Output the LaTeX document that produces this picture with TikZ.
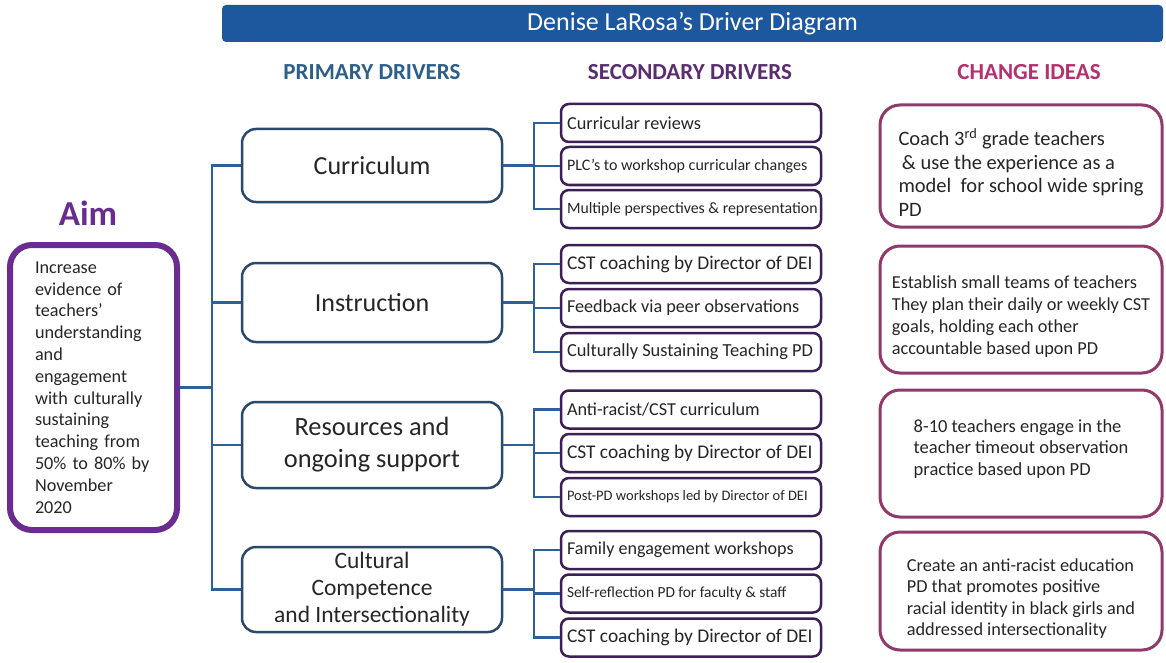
\documentclass[tikz,border=0pt]{standalone}
\usepackage{fontspec}
\setmainfont{Carlito}
\definecolor{barblue}{HTML}{1D579E}
\definecolor{connblue}{HTML}{2F609A}
\definecolor{primborder}{HTML}{2B4A6B}
\definecolor{secborder}{HTML}{3B1F55}
\definecolor{chgborder}{HTML}{8E3A6A}
\definecolor{aimpurple}{HTML}{6A2D8F}
\definecolor{hdrprim}{HTML}{2D5F8B}
\definecolor{hdrsec}{HTML}{5A2D6E}
\definecolor{hdrchg}{HTML}{B5306E}
\definecolor{txt}{HTML}{262626}
\newcommand{\myfs}[2]{\fontsize{#1}{#2}\selectfont}
\newcommand{\sectext}[2]{\myfs{#1}{#1}\makebox[248pt][l]{#2}}
\tikzset{
  conn/.style={draw=connblue, line width=2.5pt},
  primbox/.style={draw=primborder, line width=2.5pt, rounded corners=14pt, fill=white,
    minimum width=260pt, align=center, text=txt, inner sep=2pt},
  secbox/.style={draw=secborder, line width=2.5pt, rounded corners=8pt, fill=white,
    minimum width=260pt, minimum height=38pt, inner xsep=6pt, inner ysep=0pt, text=txt},
  chgbox/.style={draw=chgborder, line width=3pt, rounded corners=20pt, fill=white,
    minimum width=282pt, align=left, text=txt},
  hdr/.style={font=\bfseries\myfs{23}{26}},
}
\begin{document}
\begin{tikzpicture}[x=1pt, y=-1pt]
\useasboundingbox (0,0) rectangle (1166,663);
\fill[white] (0,0) rectangle (1166,663);

% title bar
\node[fill=barblue, rounded corners=4pt, minimum width=941pt, minimum height=37pt,
  text=white, font=\myfs{26}{28}] (title) at (692.5,23.5) {Denise LaRosa’s Driver Diagram};

% headers
\node[hdr, text=hdrprim] (hp) at (372,72) {PRIMARY DRIVERS};
\node[hdr, text=hdrsec] (hs) at (690,72) {SECONDARY DRIVERS};
\node[hdr, text=hdrchg] (hc) at (1029,72) {CHANGE IDEAS};

% aim
\node[text=aimpurple, font=\bfseries\myfs{35}{38}] (aimlbl) at (88,213) {Aim};
\node[draw=aimpurple, line width=6pt, rounded corners=22pt, minimum width=167pt, minimum height=285pt,
  text width=117pt, inner xsep=25pt, align=left, text=txt, font=\myfs{18.2}{21.8}] (aim) at (93.5,387.5)
  {Increase\\\mbox{evidence of}\\teachers’\\understanding\\and\\engagement\\\mbox{with culturally}\\sustaining\\\mbox{teaching from}\\\mbox{50\% to 80\% by}\\November\\2020};

% primary drivers
\node[primbox, minimum height=73pt, font=\myfs{26}{30}] (cur) at (372,165.5) {Curriculum};
\node[primbox, minimum height=79pt, font=\myfs{26}{30}] (ins) at (372,302.5) {Instruction};
\node[primbox, minimum height=86pt, font=\myfs{26.4}{32}] (res) at (372,445) {Resources and\\ongoing support};
\node[primbox, minimum height=85pt, font=\myfs{23.5}{27}] (cul) at (372,589.5) {Cultural\\Competence\\and Intersectionality};

% secondary drivers
\node[secbox] (s11) at (691,123) {\sectext{18.3}{Curricular reviews}};
\node[secbox] (s12) at (691,166) {\sectext{16}{PLC’s to workshop curricular changes}};
\node[secbox] (s13) at (691,209) {\sectext{15.8}{Multiple perspectives \& representation}};
\node[secbox] (s21) at (691,264) {\sectext{19.4}{CST coaching by Director of DEI}};
\node[secbox] (s22) at (691,308) {\sectext{18.2}{Feedback via peer observations}};
\node[secbox] (s23) at (691,352) {\sectext{18.4}{Culturally Sustaining Teaching PD}};
\node[secbox] (s31) at (691,409.5) {\sectext{18.2}{Anti-racist/CST curriculum}};
\node[secbox] (s32) at (691,453) {\sectext{19.4}{CST coaching by Director of DEI}};
\node[secbox] (s33) at (691,497) {\sectext{14.5}{Post-PD workshops led by Director of DEI}};
\node[secbox] (s41) at (691,550) {\sectext{18.1}{Family engagement workshops}};
\node[secbox] (s42) at (691,593.5) {\sectext{15.4}{Self-reflection PD for faculty \& staff}};
\node[secbox] (s43) at (691,637.5) {\sectext{19.4}{CST coaching by Director of DEI}};

% change ideas
\node[chgbox, minimum height=122pt, font=\myfs{20.5}{23.5}] (c1) at (1021,166)
  {\rule{0pt}{30pt}Coach 3\textsuperscript{rd} grade teachers\\\,\& use the experience as a\\model\ \ for school wide spring\\PD};
\node[chgbox, minimum height=127pt, font=\myfs{18.3}{22}] (c2) at (1021,309.5)
  {\rule{0pt}{26pt}Establish small teams of teachers\\They plan their daily or weekly CST\\goals, holding each other\\accountable based upon PD};
\node[chgbox, minimum height=127pt, font=\myfs{18.5}{21.5}] (c3) at (1021,453.5)
  {8-10 teachers engage in the\\teacher timeout observation\\practice based upon PD\rule[-12pt]{0pt}{1pt}\hspace*{10pt}};
\node[chgbox, minimum height=118pt, font=\myfs{18.3}{21.5}] (c4) at (1021,591)
  {\rule{0pt}{28pt}Create an anti-racist education\\PD that promotes positive\\racial identity in black girls and\\addressed intersectionality};

% connectors: aim to primary
\coordinate (tr) at (212,0);
\draw[conn] (aim.east) -- (aim.east -| tr);
\draw[conn] (cur.west) -- (cur.west -| tr) -- (cul.west -| tr) -- (cul.west);
\draw[conn] (ins.west) -- (ins.west -| tr);
\draw[conn] (res.west) -- (res.west -| tr);

% connectors: primary to secondary
\coordinate (br) at (534,0);
\foreach \p/\a/\b/\c in {cur/s11/s12/s13, ins/s21/s22/s23, res/s31/s32/s33, cul/s41/s42/s43}{
  \draw[conn] (\p.east) -- (\p.east -| br);
  \draw[conn] (\a.west) -- (\a.west -| br) -- (\c.west -| br) -- (\c.west);
  \draw[conn] (\b.west) -- (\b.west -| br);
}
\end{tikzpicture}
\end{document}
